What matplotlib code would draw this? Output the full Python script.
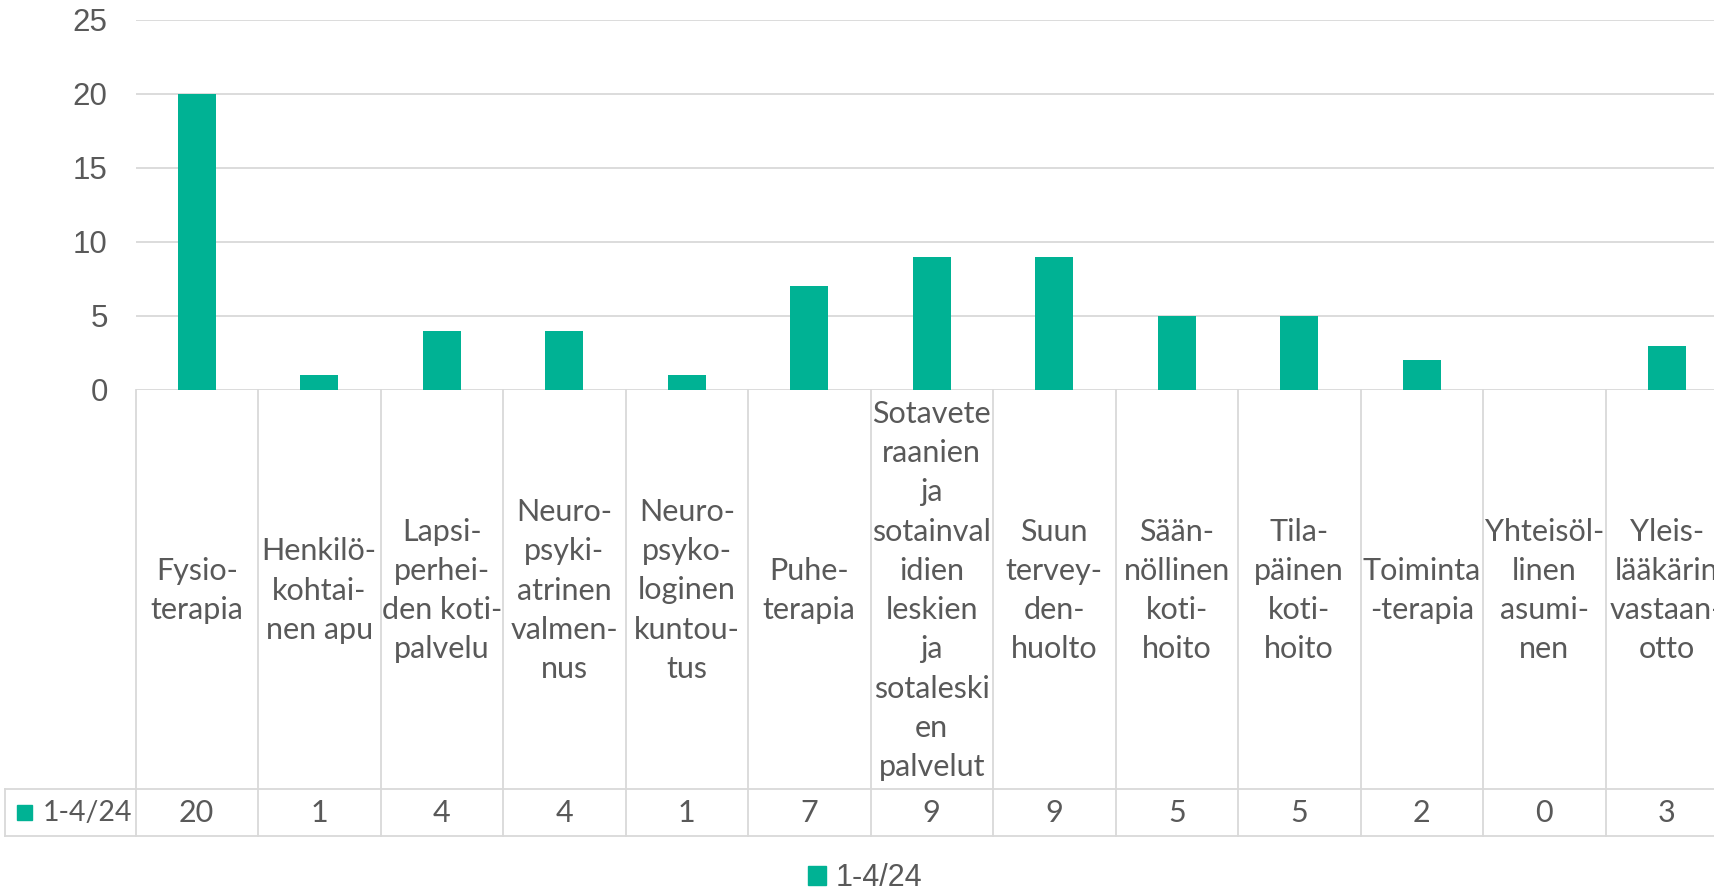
import matplotlib.pyplot as plt
from matplotlib.patches import Rectangle, Patch

# data
series_name = "1-4/24"
categories = [
    "Fysio-\nterapia",
    "Henkilö-\nkohtai-\nnen apu",
    "Lapsi-\nperhei-\nden koti-\npalvelu",
    "Neuro-\npsyki-\natrinen\nvalmen-\nnus",
    "Neuro-\npsyko-\nloginen\nkuntou-\ntus",
    "Puhe-\nterapia",
    "Sotavete\nraanien\nja\nsotainval\nidien\nleskien\nja\nsotaleski\nen\npalvelut",
    "Suun\ntervey-\nden-\nhuolto",
    "Sään-\nnöllinen\nkoti-\nhoito",
    "Tila-\npäinen\nkoti-\nhoito",
    "Toiminta\n-terapia",
    "Yhteisöl-\nlinen\nasumi-\nnen",
    "Yleis-\nlääkärin\nvastaan-\notto",
]
values = [20, 1, 4, 4, 1, 7, 9, 9, 5, 5, 2, 0, 3]
yticks = [0, 5, 10, 15, 20, 25]

BAR = "#00B294"
GRID = "#D9D9D9"
TXT = "#595959"

W, H = 1714, 890
fig = plt.figure(figsize=(W / 100, H / 100), dpi=100)

# plot area in pixels (chart is cut at the right edge like the original)
x0, cw = 135.5, 122.5
y_top, y_zero = 19.5, 390
n = len(categories)
ax = fig.add_axes([x0 / W, 1 - y_zero / H, n * cw / W, (y_zero - y_top) / H])
xs = [i + 0.5 for i in range(n)]
ax.bar(xs, values, width=0.31, color=BAR, zorder=3)
ax.set_xlim(0, n)
ax.set_ylim(0, 25)
ax.set_yticks(yticks)
ax.set_yticklabels([str(t) for t in yticks], fontsize=22.5, color=TXT,
                   family="Liberation Sans")
ax.tick_params(axis="y", length=0, pad=20)
ax.set_xticks([])
ax.grid(axis="y", color=GRID, linewidth=1.3, zorder=0)
for s in ax.spines.values():
    s.set_visible(False)

# data table under the plot, y in pixels from top
ax_t = fig.add_axes([x0 / W, 0, n * cw / W, (H - y_zero) / H])
ax_t.set_xlim(0, n)
ax_t.set_ylim(H, y_zero)
ax_t.axis("off")
row_top, row_bot = 789, 836
lab_left = (5 - x0) / cw
for i in range(n + 1):
    ax_t.plot([i, i], [y_zero, row_bot], color=GRID, lw=1.3, clip_on=False)
ax_t.plot([lab_left, lab_left], [row_top, row_bot], color=GRID, lw=1.3, clip_on=False)
for yy in (row_top, row_bot):
    ax_t.plot([lab_left, n], [yy, yy], color=GRID, lw=1.3, clip_on=False)

for x, lab, v in zip(xs, categories, values):
    ax_t.text(x, (y_zero + row_top) / 2 + 1, lab, ha="center", va="center",
              multialignment="center", fontsize=22, family="Lato",
              color=TXT, linespacing=1.49, clip_on=False)
    ax_t.text(x, 813, str(v), ha="center", va="center", fontsize=22,
              family="Lato", color=TXT)

ax_t.add_patch(Rectangle(((17 - x0) / cw, 805), 15 / cw, 15, color=BAR,
                         clip_on=False))
ax_t.text((43 - x0) / cw, 813, series_name, ha="left", va="center",
          fontsize=20.5, family="Lato", color=TXT, clip_on=False)

# legend
fig.legend(handles=[Patch(color=BAR)], labels=[series_name], loc="center",
           bbox_to_anchor=(865 / W, 1 - 878 / H), frameon=False,
           prop={"family": "Liberation Sans", "size": 22},
           labelcolor=TXT, handlelength=0.6, handleheight=0.6,
           handletextpad=0.3)

fig.savefig("out.png", dpi=100)
